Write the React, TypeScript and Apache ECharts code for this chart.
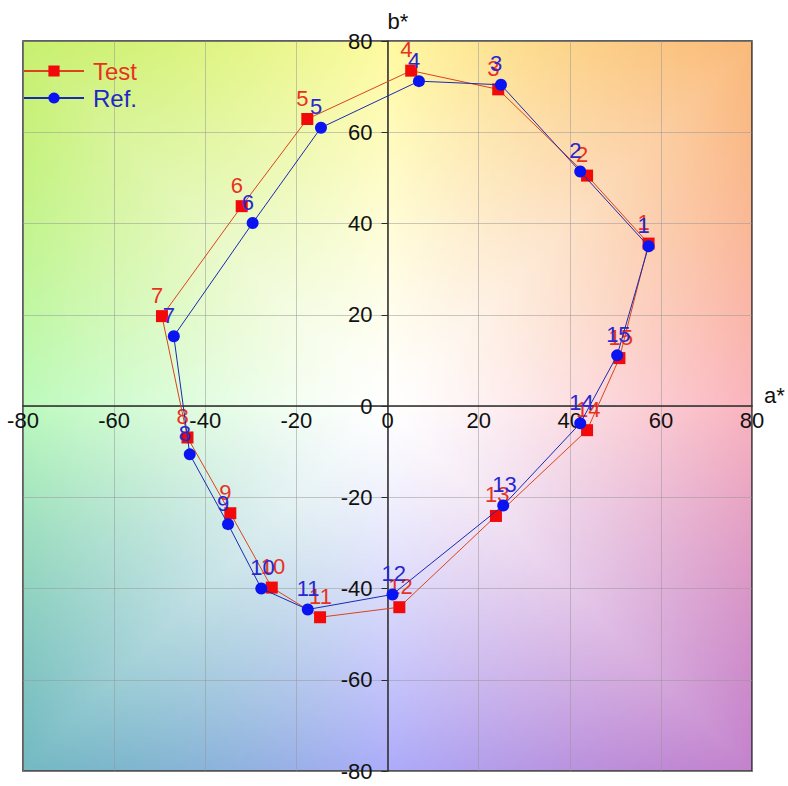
import { useEffect, useRef } from "react";
import * as echarts from "echarts";

const pointIds = ["1", "2", "3", "4", "5", "6", "7", "8", "9", "10", "11", "12", "13", "14", "15"];
const testA = [57.3, 43.8, 24.3, 5.2, -17.6, -32.0, -49.5, -43.9, -34.5, -25.4, -14.8, 2.6, 23.8, 43.8, 50.9];
const testB = [35.6, 50.5, 69.4, 73.5, 62.9, 43.8, 19.7, -6.9, -23.5, -39.8, -46.3, -44.1, -24.1, -5.3, 10.5];
const refA = [57.3, 42.3, 24.9, 6.9, -14.6, -29.6, -46.9, -43.4, -35.0, -27.7, -17.5, 1.1, 25.4, 42.3, 50.4];
const refB = [35.0, 51.4, 70.4, 71.2, 61.0, 40.1, 15.3, -10.6, -25.9, -40.0, -44.6, -41.3, -21.8, -3.8, 11.1];
const axisMin = -80;
const axisMax = 80;
const axisStep = 20;

// background hue anchors: angle (deg) -> colour at the plot's square boundary
const bgAngles = [0, 45, 90, 135, 180, 225, 270, 315, 360];
const bgColors = [
  [250, 180, 190],
  [250, 186, 122],
  [255, 250, 160],
  [200, 240, 110],
  [188, 250, 188],
  [115, 185, 195],
  [172, 172, 250],
  [195, 130, 205],
  [250, 180, 190],
];

const FONT = "'Liberation Sans', Arial, sans-serif";

const GRID = { left: 23, top: 41, right: 36, bottom: 15 };
const W = 788;
const H = 786;

function makeBackground(): string {
  const n = 160;
  const cv = document.createElement("canvas");
  cv.width = n;
  cv.height = n;
  const ctx = cv.getContext("2d")!;
  const img = ctx.createImageData(n, n);
  for (let j = 0; j < n; j++) {
    for (let i = 0; i < n; i++) {
      const a = axisMin + ((i + 0.5) / n) * (axisMax - axisMin);
      const b = axisMax - ((j + 0.5) / n) * (axisMax - axisMin);
      let ang = (Math.atan2(b, a) * 180) / Math.PI;
      if (ang < 0) ang += 360;
      const k = Math.min(7, Math.floor(ang / 45));
      const t = (ang - bgAngles[k]) / 45;
      const c0 = bgColors[k];
      const c1 = bgColors[k + 1];
      const r = Math.sqrt(a * a + b * b);
      const rad = (ang * Math.PI) / 180;
      const rsq = 80 / Math.max(Math.abs(Math.cos(rad)), Math.abs(Math.sin(rad)));
      const f = Math.pow(Math.min(1, r / rsq), 1.25);
      const idx = (j * n + i) * 4;
      for (let c = 0; c < 3; c++) {
        const anchor = c0[c] + (c1[c] - c0[c]) * t;
        img.data[idx + c] = Math.round(255 + (anchor - 255) * f);
      }
      img.data[idx + 3] = 255;
    }
  }
  ctx.putImageData(img, 0, 0);
  return cv.toDataURL("image/png");
}

function buildData(xs: number[], ys: number[]) {
  const d: any[] = xs.map((x, i) => ({ value: [x, ys[i]] }));
  d.push({ value: [xs[0], ys[0]], symbol: "none", label: { show: false } });
  return d;
}

export default function App() {
  const ref = useRef<HTMLDivElement>(null);
  useEffect(() => {
    document.body.style.margin = "0";
    if (!ref.current) return;
    const chart = echarts.init(ref.current, undefined, { renderer: "svg" });
    const gridW = W - GRID.left - GRID.right;
    const gridH = H - GRID.top - GRID.bottom;
    const axisCommon = {
      type: "value",
      min: axisMin,
      max: axisMax,
      interval: axisStep,
      axisLine: { onZero: false, lineStyle: { color: "#2a2a2a", width: 1.5 } },
      splitLine: { show: true, lineStyle: { color: "rgba(150,150,150,0.5)", width: 1 } },
    };
    chart.setOption({
      animation: false,
      grid: {
        ...GRID,
        outerBoundsMode: "none",
        containLabel: false,
        show: true,
        borderColor: "#2a2a2a",
        borderWidth: 1.5,
        backgroundColor: "transparent",
      },
      legend: {
        left: 23,
        top: 59,
        orient: "vertical",
        padding: 0,
        itemWidth: 60,
        itemHeight: 14,
        itemGap: 3,
        textStyle: { fontSize: 24, fontFamily: FONT, padding: [2, 0, 0, 4] },
        data: [
          { name: "Test", textStyle: { color: "#e8321e" } },
          { name: "Ref.", textStyle: { color: "#1e28c8" } },
        ],
      },
      xAxis: {
        ...axisCommon,
        position: "bottom",
        offset: -gridH / 2,
        name: "a*",
        nameLocation: "end",
        nameGap: 12,
        nameTextStyle: { fontSize: 22, fontFamily: FONT, color: "#111", verticalAlign: "bottom" },
        axisTick: { show: false },
        axisLabel: { fontSize: 22, fontFamily: FONT, color: "#111", margin: 3, hideOverlap: false },
      },
      yAxis: {
        ...axisCommon,
        position: "left",
        offset: -gridW / 2,
        name: "b*",
        nameLocation: "end",
        nameGap: 9,
        nameTextStyle: { fontSize: 22, fontFamily: FONT, color: "#111", align: "left", verticalAlign: "bottom" },
        axisTick: { show: true, inside: false, length: 6, lineStyle: { color: "#2a2a2a" } },
        axisLabel: { fontSize: 22, fontFamily: FONT, color: "#111", margin: 15, hideOverlap: false },
      },
      series: [
        {
          name: "Test",
          type: "line",
          data: buildData(testA, testB),
          symbol: "rect",
          symbolSize: 12,
          itemStyle: { color: "#f20a0a" },
          lineStyle: { color: "#d9441e", width: 1 },
          label: {
            show: true,
            position: "top",
            distance: 4,
            align: "left",
            offset: [-11, 0],
            fontSize: 22,
            fontFamily: FONT,
            color: "#e8321e",
            formatter: (p: any) => pointIds[p.dataIndex] ?? "",
          },
          emphasis: { disabled: true },
          z: 2,
        },
        {
          name: "Ref.",
          type: "line",
          data: buildData(refA, refB),
          symbol: "circle",
          symbolSize: 12,
          itemStyle: { color: "#0a14f0" },
          lineStyle: { color: "#1a2ab0", width: 1 },
          label: {
            show: true,
            position: "top",
            distance: 4,
            align: "left",
            offset: [-11, 0],
            fontSize: 22,
            fontFamily: FONT,
            color: "#2828d0",
            formatter: (p: any) => pointIds[p.dataIndex] ?? "",
          },
          emphasis: { disabled: true },
          z: 3,
        },
      ],
    });
    const p0 = chart.convertToPixel({ xAxisIndex: 0, yAxisIndex: 0 }, [axisMin, axisMax]) as number[];
    const p1 = chart.convertToPixel({ xAxisIndex: 0, yAxisIndex: 0 }, [axisMax, axisMin]) as number[];
    chart.setOption({
      graphic: {
        elements: [
          {
            type: "image",
            z: -10,
            silent: true,
            style: {
              image: makeBackground(),
              x: p0[0],
              y: p0[1],
              width: p1[0] - p0[0],
              height: p1[1] - p0[1],
            },
          },
        ],
      },
    });
    return () => chart.dispose();
  }, []);
  return <div ref={ref} style={{ width: W, height: H }} />;
}
